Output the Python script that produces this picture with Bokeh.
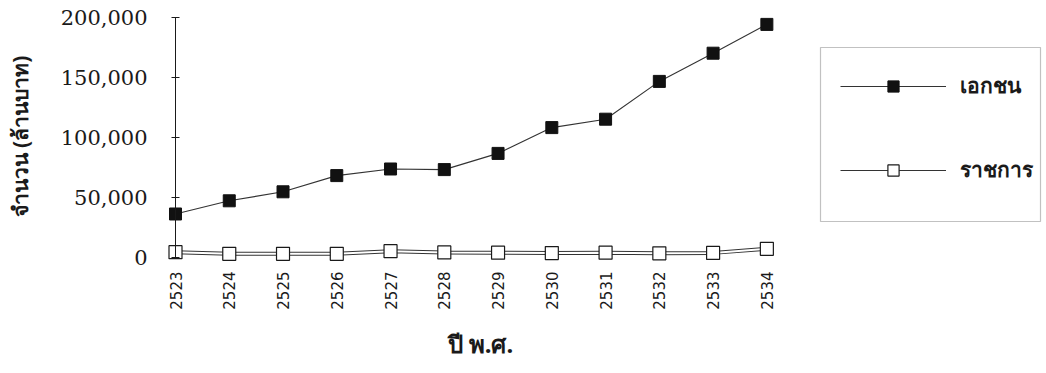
from bokeh.plotting import figure
from bokeh.models import (Range1d, FixedTicker, NumeralTickFormatter, Legend,
                          LegendItem, LinearAxis, BoxAnnotation, Title)
from bokeh.embed import file_html
from bokeh.resources import INLINE

# Investment by year (million baht), private sector vs. government
years = [2523, 2524, 2525, 2526, 2527, 2528, 2529, 2530, 2531, 2532, 2533, 2534]
private = [36000, 47000, 54500, 68000, 73500, 73000, 86500, 108000, 115000, 146500, 170000, 194000]
government = [4200, 2800, 2800, 2800, 5000, 4000, 3800, 3400, 3800, 3200, 3600, 7000]
y_ticks = [0, 50000, 100000, 150000, 200000]

series_labels = ["เอกชน", "ราชการ"]
y_title = "จำนวน (ล้านบาท)"
x_title = "ปี พ.ศ."

THAI_FONT = "Noto Sans"
INK = "#1a1a1a"

px_per_year = 53.76
frame_left, frame_right = 150, 1046
x_start = years[0] - 25 / px_per_year
x_end = x_start + (frame_right - frame_left) / px_per_year

p = figure(
    width=1046, height=373,
    output_backend="svg", toolbar_location=None,
    x_range=Range1d(x_start, x_end),
    y_range=Range1d(-4417, 205583),
    min_border_left=frame_left, min_border_right=0,
    min_border_top=10, min_border_bottom=111,
)
p.outline_line_color = None
p.xgrid.visible = False
p.ygrid.visible = False
p.background_fill_color = "white"
p.border_fill_color = "white"

# tick labels and title of the value axis (line/ticks drawn by the axis below)
ya = p.yaxis[0]
ya.ticker = FixedTicker(ticks=y_ticks)
ya.formatter = NumeralTickFormatter(format="0,0")
ya.axis_line_color = None
ya.major_tick_line_color = None
ya.minor_tick_line_color = None
ya.major_tick_in = 0
ya.major_tick_out = 0
ya.major_label_standoff = 3
ya.major_label_text_font = "DejaVu Serif"
ya.major_label_text_font_size = "21px"
ya.major_label_text_color = INK
ya.axis_label = y_title
ya.axis_label_text_font = THAI_FONT
ya.axis_label_text_font_size = "21px"
ya.axis_label_text_font_style = "bold"
ya.axis_label_text_color = INK
ya.axis_label_standoff = 24

# the value axis line itself, standing on the first year from 0 to 200,000
spine = LinearAxis(
    fixed_location=years[0],
    bounds=(y_ticks[0], y_ticks[-1]),
    ticker=FixedTicker(ticks=y_ticks),
    major_label_overrides={t: "" for t in y_ticks},
    major_label_text_alpha=0,
    major_label_standoff=0,
    major_tick_in=4, major_tick_out=4,
    minor_tick_line_color=None,
    axis_line_color=INK, major_tick_line_color=INK,
)
p.add_layout(spine, "right")

xa = p.xaxis[0]
xa.ticker = FixedTicker(ticks=years)
xa.axis_line_color = None
xa.major_tick_line_color = None
xa.minor_tick_line_color = None
xa.major_tick_in = 0
xa.major_tick_out = 0
xa.major_label_orientation = 3.14159265 / 2
xa.major_label_standoff = 9
xa.major_label_text_font = "DejaVu Sans"
xa.major_label_text_font_size = "15px"
xa.major_label_text_color = INK

# year title, centred under the plotted years rather than the whole frame
p.add_layout(Title(
    text=x_title, align="left", offset=297, standoff=25,
    text_font=THAI_FONT, text_font_size="24px", text_font_style="bold",
    text_color=INK,
), "below")

# government: thin key line underneath, double-stroked line, hollow squares
gov_key = p.line(years, government, line_color="#333", line_width=1.1)
p.line(years, government, line_color="#333", line_width=4)
p.line(years, government, line_color="white", line_width=2)
gov_pts = p.scatter(years, government, marker="square", size=13,
                    fill_color="white", line_color=INK, line_width=1.2)

# private sector: thin line with filled squares
priv_line = p.line(years, private, line_color="#333", line_width=1.1)
priv_pts = p.scatter(years, private, marker="square", size=12,
                     fill_color="#111", line_color="#111")

legend = Legend(
    items=[
        LegendItem(label=series_labels[0], renderers=[priv_line, priv_pts]),
        LegendItem(label=series_labels[1], renderers=[gov_key, gov_pts]),
    ],
    location=(840 - frame_left, 262 - 186),
    glyph_width=106, glyph_height=28, label_height=28,
    label_standoff=14,
    padding=0, spacing=51, margin=0,
    border_line_color=None,
    background_fill_alpha=0,
    label_text_font=THAI_FONT, label_text_font_size="21px",
    label_text_font_style="bold", label_text_color=INK,
)
p.add_layout(legend)

# frame around the key
p.add_layout(BoxAnnotation(
    left=820, right=1040, top=47, bottom=221,
    left_units="canvas", right_units="canvas",
    top_units="canvas", bottom_units="canvas",
    fill_alpha=0, line_color="#333", line_width=1.2,
))

open("out.html", "w").write(file_html(p, INLINE))
